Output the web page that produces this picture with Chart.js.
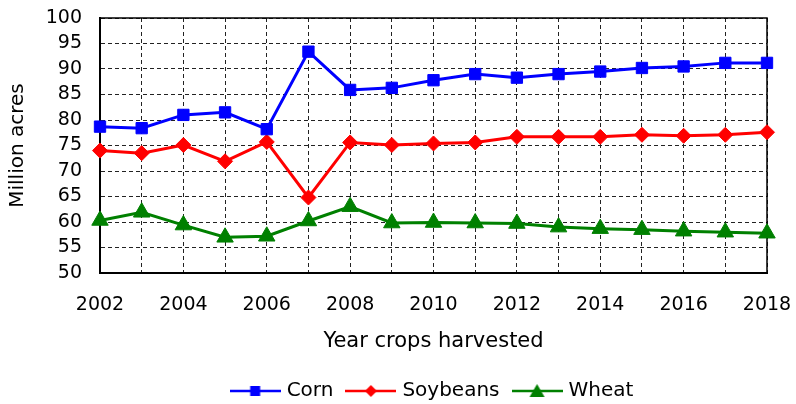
<!DOCTYPE html>
<html>
<head>
<meta charset="utf-8">
<script src="https://cdn.jsdelivr.net/npm/chart.js@4.4.1/dist/chart.umd.min.js"></script>
<style>
  html, body { margin: 0; padding: 0; background: #fff; }
  #wrap { width: 796px; height: 404px; position: relative; }
</style>
</head>
<body>
<div id="wrap"><canvas id="acresChart"></canvas></div>
<script>
const years = ['2002', '2003', '2004', '2005', '2006', '2007', '2008', '2009', '2010',
  '2011', '2012', '2013', '2014', '2015', '2016', '2017', '2018']
const corn = [78.7, 78.4, 81.0, 81.5, 78.2, 93.4, 85.9, 86.3, 87.8, 89.0, 88.3, 89.0, 89.5, 90.2, 90.5, 91.2, 91.2]
const soybeans = [74.0, 73.5, 75.1, 71.9, 75.7, 64.8, 75.6, 75.1, 75.4, 75.6, 76.7, 76.7, 76.7, 77.1, 76.9, 77.1, 77.6]
const wheat = [60.3, 61.9, 59.4, 57.0, 57.2, 60.2, 63.0, 59.8, 59.9, 59.8, 59.7, 59.0, 58.7, 58.5, 58.2, 58.0, 57.8]
const yTicks = { min: 50, max: 100, step: 5 }

Chart.defaults.font.family = "'DejaVu Sans', sans-serif"
Chart.defaults.color = '#000'

// little line + marker pictures for the legend
function legendIcon (color, shape) {
  const c = document.createElement('canvas')
  c.width = 51
  c.height = 20
  const g = c.getContext('2d')
  g.strokeStyle = color
  g.fillStyle = color
  g.lineWidth = 2.5
  g.beginPath()
  g.moveTo(0, 10)
  g.lineTo(51, 10)
  g.stroke()
  g.beginPath()
  if (shape === 'rect') {
    g.rect(20.5, 5, 10, 10)
  } else if (shape === 'diamond') {
    g.moveTo(25.5, 4); g.lineTo(31.5, 10); g.lineTo(25.5, 16); g.lineTo(19.5, 10)
  } else {
    g.moveTo(25.5, 3); g.lineTo(33, 16); g.lineTo(18, 16)
  }
  g.closePath()
  g.fill()
  return c
}

const icons = [legendIcon('#0000ff', 'rect'), legendIcon('#ff0000', 'diamond'), legendIcon('#008000', 'triangle')]

const framePlugin = {
  id: 'frame',
  beforeDatasetsDraw (chart) {
    const { ctx, chartArea: a } = chart
    ctx.save()
    ctx.strokeStyle = '#000'
    ctx.lineWidth = 1.5
    ctx.beginPath()
    ctx.moveTo(a.left, a.top)
    ctx.lineTo(a.right, a.top)
    ctx.lineTo(a.right, a.bottom)
    ctx.stroke()
    ctx.restore()
  }
}

const series = (label, data, color, style, radius) => ({
  label,
  data,
  borderColor: color,
  backgroundColor: color,
  borderWidth: 3,
  pointStyle: style,
  pointRadius: radius,
  pointBorderWidth: 1,
  pointBackgroundColor: color,
  pointBorderColor: color,
  tension: 0,
  clip: false
})

new Chart(document.getElementById('acresChart'), {
  type: 'line',
  data: {
    labels: years,
    datasets: [
      series('Corn', corn, '#0000ff', 'rect', 8),
      series('Soybeans', soybeans, '#ff0000', 'rectRot', 7.5),
      series('Wheat', wheat, '#008000', 'triangle', 9.5)
    ]
  },
  options: {
    responsive: true,
    maintainAspectRatio: false,
    animation: false,
    layout: { padding: { top: 18, right: 29, bottom: -7, left: 0 } },
    plugins: {
      tooltip: { enabled: false },
      legend: {
        position: 'bottom',
        fullSize: false,
        labels: {
          usePointStyle: true,
          pointStyleWidth: 43,
          padding: 16,
          font: { size: 20 },
          generateLabels (chart) {
            const items = Chart.defaults.plugins.legend.labels.generateLabels(chart)
            items.forEach((it, i) => { it.pointStyle = icons[i] })
            return items
          }
        }
      }
    },
    scales: {
      x: {
        offset: false,
        grid: { color: '#222', lineWidth: 1, drawTicks: true, tickLength: 17, tickColor: 'rgba(0,0,0,0)' },
        border: { display: true, color: '#000', width: 2, dash: [4, 3] },
        ticks: {
          autoSkip: false,
          maxRotation: 0,
          padding: 4,
          font: { size: 19 },
          callback: (v, i) => (i % 2 === 0 ? years[i] : '')
        },
        title: { display: true, text: 'Year crops harvested', font: { size: 21 }, padding: { top: 0, bottom: 11 } },
        afterFit: (scale) => { scale.height = 92 }
      },
      y: {
        min: yTicks.min,
        max: yTicks.max,
        grid: { color: '#222', lineWidth: 1, drawTicks: true, tickLength: 14, tickColor: 'rgba(0,0,0,0)' },
        border: { display: true, color: '#000', width: 2, dash: [4, 3] },
        ticks: { stepSize: yTicks.step, autoSkip: false, padding: 4, font: { size: 19 } },
        title: { display: true, text: 'Million acres', font: { size: 20 }, padding: { top: 6, bottom: 0 } },
        afterFit: (scale) => { scale.width = 100 }
      }
    }
  },
  plugins: [framePlugin]
})
</script>
</body>
</html>
